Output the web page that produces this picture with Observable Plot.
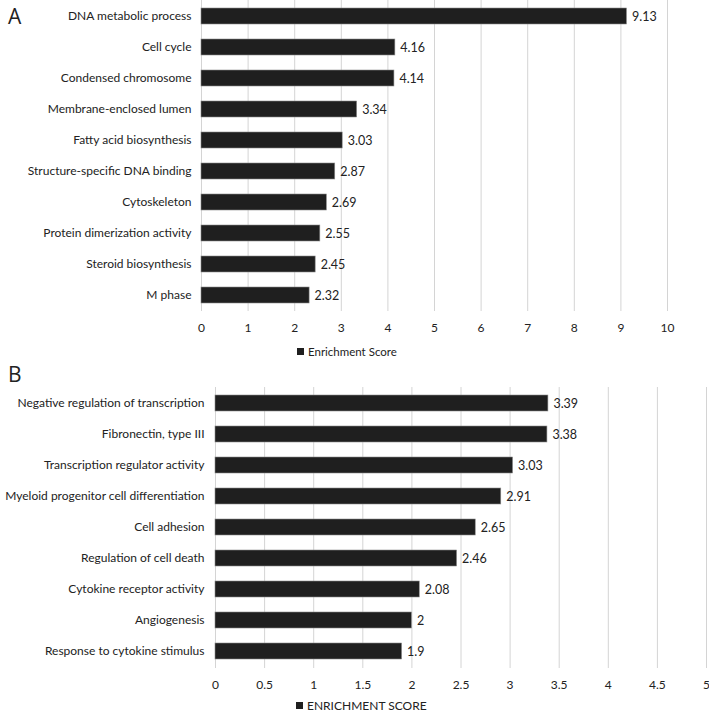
<!DOCTYPE html>
<html>
<head>
<meta charset="utf-8">
<script src="https://cdn.jsdelivr.net/npm/d3@7"></script>
<script src="https://cdn.jsdelivr.net/npm/@observablehq/plot@0.6"></script>
<style>
  html, body { margin: 0; padding: 0; background: #fff; }
  #wrap { position: relative; width: 709px; height: 713px; overflow: hidden; font-family: Lato, "Open Sans", sans-serif; color: #222; }
  .abs { position: absolute; }
  .panel-label { font-size: 21px; font-family: "Open Sans", Lato, sans-serif; }
  .legend { font-size: 11.5px; display: flex; align-items: center; gap: 4px; white-space: nowrap; }
  .legend .sw { width: 7px; height: 7px; background: #1f1f1f; display: inline-block; }
</style>
</head>
<body>
<div id="wrap">
  <div class="abs panel-label" style="left:8px; top:2px;">A</div>
  <div class="abs panel-label" style="left:8px; top:360px;">B</div>
  <div id="chartA" class="abs" style="left:0; top:0;"></div>
  <div id="chartB" class="abs" style="left:0; top:370px;"></div>
  <div class="abs legend" style="left:297px; top:345px;"><span class="sw"></span><span>Enrichment Score</span></div>
  <div class="abs legend" style="left:296px; top:698px; font-size:12px;"><span class="sw"></span><span>ENRICHMENT SCORE</span></div>
</div>
<script>
const categoriesA = [
  "DNA metabolic process",
  "Cell cycle",
  "Condensed chromosome",
  "Membrane-enclosed lumen",
  "Fatty acid biosynthesis",
  "Structure-specific DNA binding",
  "Cytoskeleton",
  "Protein dimerization activity",
  "Steroid biosynthesis",
  "M phase"
];
const valuesA = [9.13, 4.16, 4.14, 3.34, 3.03, 2.87, 2.69, 2.55, 2.45, 2.32];
const ticksA = [0, 1, 2, 3, 4, 5, 6, 7, 8, 9, 10];

const categoriesB = [
  "Negative regulation of transcription",
  "Fibronectin, type III",
  "Transcription regulator activity",
  "Myeloid progenitor cell differentiation",
  "Cell adhesion",
  "Regulation of cell death",
  "Cytokine receptor activity",
  "Angiogenesis",
  "Response to cytokine stimulus"
];
const valuesB = [3.39, 3.38, 3.03, 2.91, 2.65, 2.46, 2.08, 2, 1.9];
const ticksB = [0, 0.5, 1, 1.5, 2, 2.5, 3, 3.5, 4, 4.5, 5];

function panel({cats, vals, ticks, height, marginTop, marginBottom, marginLeft, marginRight, xTickPadding, yTickPadding}) {
  const data = cats.map((c, i) => ({c, v: vals[i]}));
  return Plot.plot({
    width: 709,
    height, marginTop, marginBottom, marginLeft, marginRight,
    style: {fontFamily: "Lato, 'Open Sans', sans-serif", fontSize: "12px", color: "#222", background: "transparent"},
    x: {domain: [ticks[0], ticks[ticks.length - 1]], ticks, tickFormat: d => String(d), tickSize: 0, tickPadding: xTickPadding, label: null},
    y: {domain: cats, paddingInner: 0.48, paddingOuter: 0.24, label: null, tickSize: 0, tickPadding: yTickPadding},
    marks: [
      Plot.gridX(ticks, {stroke: "#d4d4d4", strokeOpacity: 1, strokeWidth: 1}),
      Plot.barX(data, {x: "v", y: "c", fill: "#1f1f1f", stroke: "#8a8a8a", strokeWidth: 0.6}),
      Plot.text(data, {x: "v", y: "c", text: d => String(d.v), textAnchor: "start", dx: 5, fill: "#222", fontSize: 12.5})
    ]
  });
}

document.getElementById("chartA").appendChild(panel({
  cats: categoriesA, vals: valuesA, ticks: ticksA,
  height: 345, marginTop: 0, marginBottom: 34, marginLeft: 201, marginRight: 42,
  xTickPadding: 12, yTickPadding: 10
}));
document.getElementById("chartB").appendChild(panel({
  cats: categoriesB, vals: valuesB, ticks: ticksB,
  height: 332, marginTop: 17, marginBottom: 34, marginLeft: 215, marginRight: 3,
  xTickPadding: 12, yTickPadding: 11
}));
</script>
</body>
</html>
